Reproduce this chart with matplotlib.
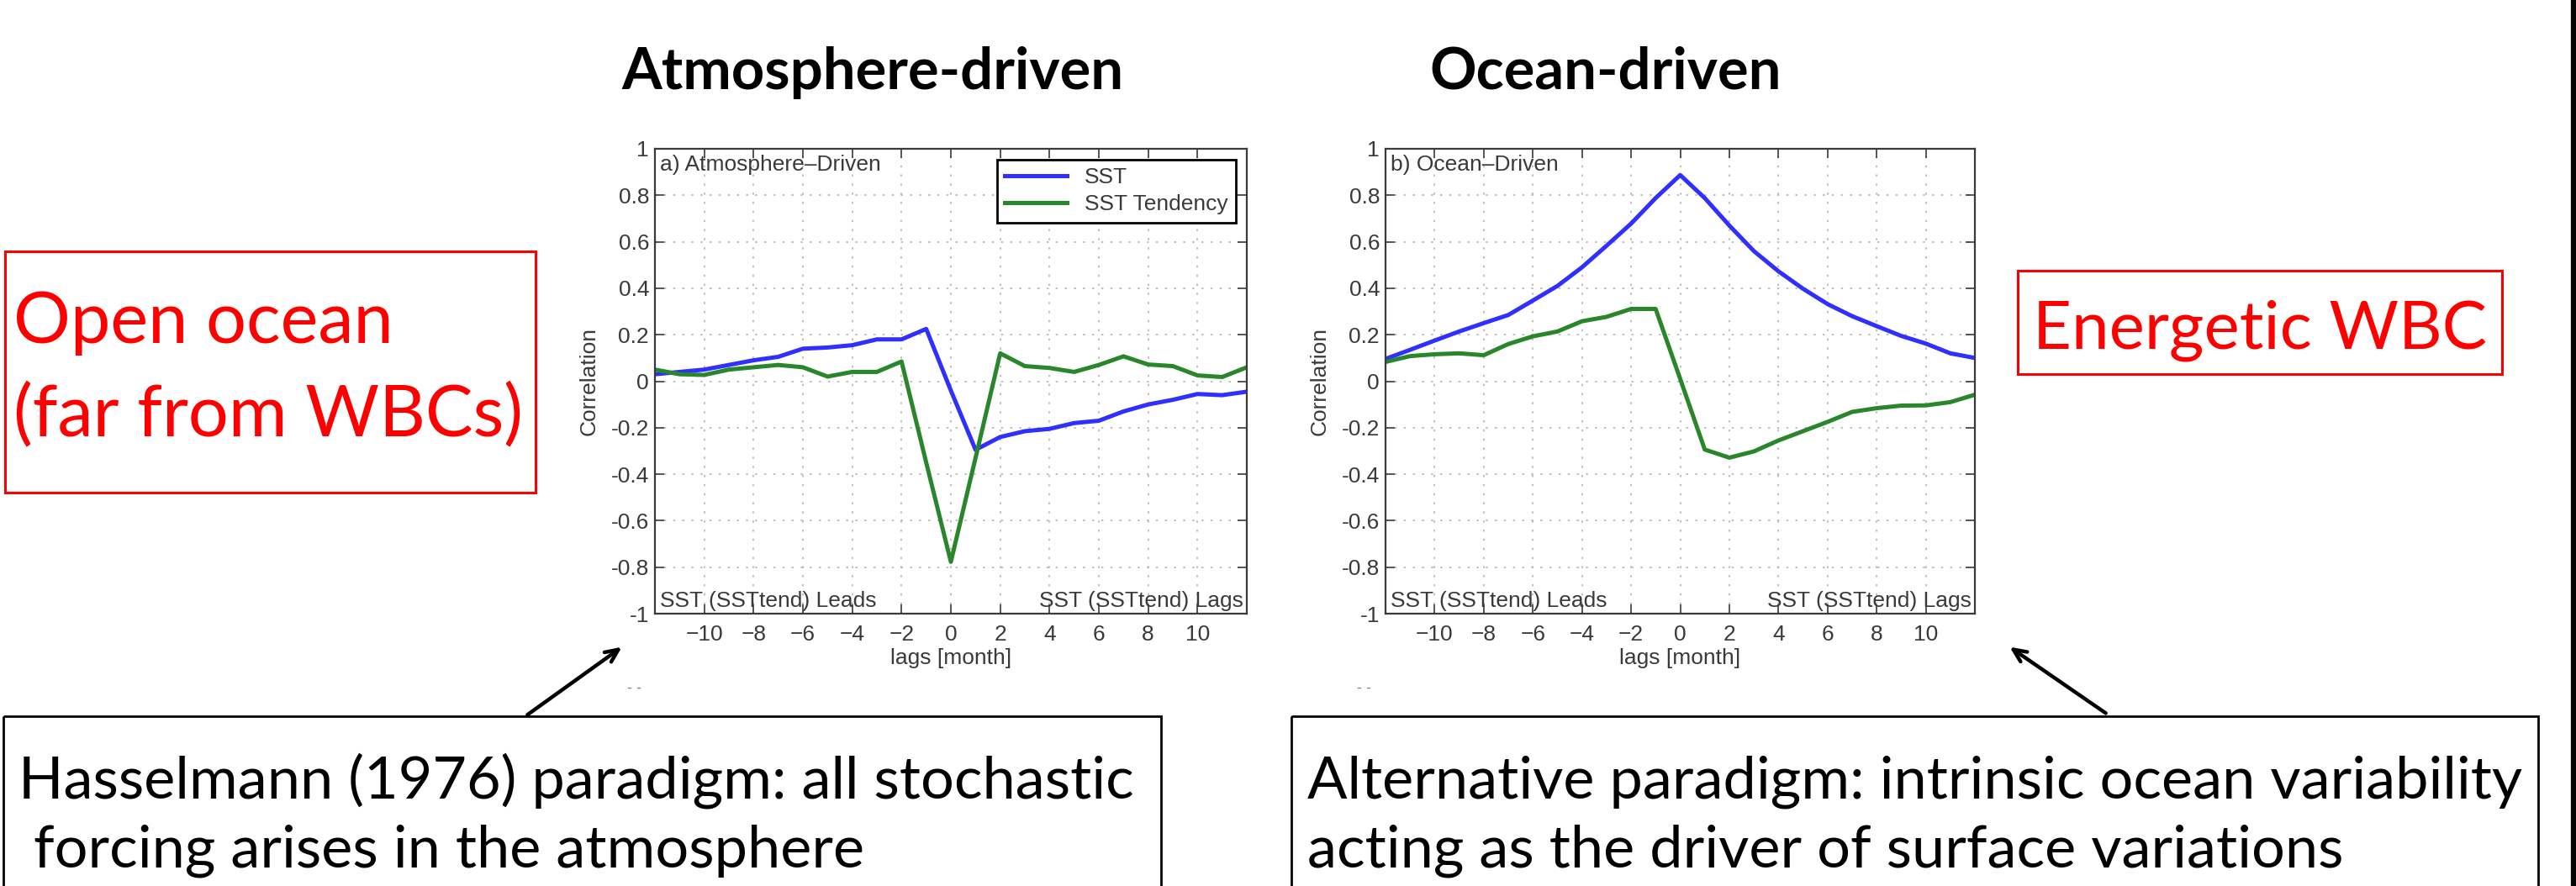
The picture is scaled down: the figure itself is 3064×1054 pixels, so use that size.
import matplotlib
matplotlib.use('Agg')
import matplotlib.pyplot as plt
from matplotlib.patches import Rectangle
import numpy as np

# lags in months
lags = np.arange(-12, 13)

# a) Atmosphere-driven
atm_sst = [0.03, 0.04, 0.05, 0.07, 0.09, 0.105, 0.14, 0.145, 0.155, 0.18, 0.18, 0.225,
           -0.04, -0.295, -0.24, -0.215, -0.205, -0.18, -0.17, -0.13, -0.10, -0.08,
           -0.055, -0.06, -0.045]
atm_tend = [0.05, 0.03, 0.027, 0.05, 0.06, 0.07, 0.06, 0.02, 0.04, 0.04, 0.085, -0.35,
            -0.777, -0.33, 0.12, 0.065, 0.057, 0.04, 0.07, 0.107, 0.072, 0.065,
            0.025, 0.018, 0.06]

# b) Ocean-driven
ocn_sst = [0.096, 0.135, 0.175, 0.214, 0.25, 0.285, 0.347, 0.41, 0.49, 0.583, 0.678, 0.788,
           0.887, 0.788, 0.67, 0.56, 0.473, 0.398, 0.332, 0.28, 0.237, 0.195,
           0.162, 0.12, 0.10]
ocn_tend = [0.083, 0.108, 0.116, 0.12, 0.112, 0.16, 0.193, 0.214, 0.258, 0.277, 0.311, 0.311,
            0.01, -0.294, -0.329, -0.302, -0.255, -0.215, -0.175, -0.132, -0.116, -0.105,
            -0.104, -0.09, -0.058]

xticks = np.arange(-10, 11, 2)
yticks = np.round(np.arange(-1, 1.01, 0.2), 1)

W, H = 3064, 1054
fig = plt.figure(figsize=(W / 100, H / 100), dpi=100)

blue = '#2f2fff'
green = '#2a862a'
axcol = '#3a3a3a'
afont = 'Liberation Sans'
sfont = 'Lato'
fs = 19


def panel(rect, sst, tend, label, legend):
    ax = fig.add_axes(rect)
    ax.plot(lags, sst, color=blue, lw=3.6, label='SST')
    ax.plot(lags, tend, color=green, lw=3.6, label='SST Tendency')
    ax.set_xlim(-12, 12)
    ax.set_ylim(-1, 1)
    ax.set_xticks(xticks)
    ax.set_yticks(yticks)
    ax.set_yticklabels(['%g' % v if v != 0 else '0' for v in yticks])
    ax.grid(True, linestyle=(0, (1.5, 5)), color='#b5b5b5', lw=1.2)
    ax.tick_params(direction='in', top=True, right=True, length=8, width=1.2,
                   colors=axcol, labelsize=fs)
    ax.tick_params(axis='x', pad=9)
    ax.tick_params(axis='y', pad=5)
    for lab in ax.get_xticklabels() + ax.get_yticklabels():
        lab.set_fontfamily(afont)
    for s in ax.spines.values():
        s.set_linewidth(1.6)
        s.set_color(axcol)
    ax.set_xlabel('lags [month]', fontsize=fs, color=axcol, family=afont, labelpad=3)
    ax.set_ylabel('Correlation', fontsize=fs, color=axcol, family=afont, labelpad=10)
    ax.text(0.008, 0.988, label, transform=ax.transAxes, ha='left', va='top',
            fontsize=fs, color=axcol, family=afont)
    ax.text(0.008, 0.006, 'SST (SSTtend) Leads', transform=ax.transAxes, ha='left',
            va='bottom', fontsize=fs, color=axcol, family=afont)
    ax.text(0.994, 0.006, 'SST (SSTtend) Lags', transform=ax.transAxes, ha='right',
            va='bottom', fontsize=fs, color=axcol, family=afont)
    if legend:
        leg = ax.legend(loc='upper right', fancybox=False, framealpha=1,
                        edgecolor='black', handlelength=2.8, borderaxespad=0.5,
                        borderpad=0.35, labelspacing=0.3,
                        prop={'family': afont, 'size': fs})
        leg.get_frame().set_linewidth(2)
        for t in leg.get_texts():
            t.set_color(axcol)
    return ax


panel([779 / W, 1 - 730 / H, 704 / W, 553 / H], atm_sst, atm_tend,
      'a) Atmosphere\u2013Driven', True)
panel([1648 / W, 1 - 730 / H, 701 / W, 553 / H], ocn_sst, ocn_tend,
      'b) Ocean\u2013Driven', False)

# overlay in pixel coordinates for the slide annotations
ov = fig.add_axes([0, 0, 1, 1], zorder=-1)
ov.set_xlim(0, W)
ov.set_ylim(H, 0)
ov.axis('off')

ov.text(1038, 106, 'Atmosphere-driven', ha='center', va='baseline', fontsize=49.5,
        fontweight='bold', family=sfont)
ov.text(1910, 106, 'Ocean-driven', ha='center', va='baseline', fontsize=49.5,
        fontweight='bold', family=sfont)

# red boxes
ov.add_patch(Rectangle((6, 299), 631, 287, fill=False, edgecolor='red', lw=2.2))
ov.text(16, 408, 'Open ocean', color='red', fontsize=61, family=sfont, va='baseline')
ov.text(16, 518, '(far from WBCs)', color='red', fontsize=61, family=sfont, va='baseline')
ov.add_patch(Rectangle((2400, 322), 576, 123, fill=False, edgecolor='red', lw=2.2))
ov.text(2688, 414, 'Energetic WBC', color='red', fontsize=57.5, family=sfont,
        ha='center', va='baseline')

# black boxes
ov.add_patch(Rectangle((4, 852), 1377, 260, fill=False, edgecolor='black', lw=2,
                       clip_on=False))
ov.text(22, 950, 'Hasselmann (1976) paradigm: all stochastic', fontsize=50.6,
        family=sfont, va='baseline')
ov.text(22, 1032, ' forcing arises in the atmosphere', fontsize=50.6,
        family=sfont, va='baseline')
ov.add_patch(Rectangle((1536, 852), 1483, 260, fill=False, edgecolor='black', lw=2,
                       clip_on=False))
ov.text(1555, 950, 'Alternative paradigm: intrinsic ocean variability', fontsize=50.6,
        family=sfont, va='baseline')
ov.text(1555, 1032, 'acting as the driver of surface variations', fontsize=50.6,
        family=sfont, va='baseline')

# arrows
ov.annotate('', xy=(742, 768), xytext=(625, 852),
            arrowprops=dict(arrowstyle='->,head_length=1.1,head_width=0.5', lw=3.2,
                            color='black'))
ov.annotate('', xy=(2388, 768), xytext=(2507, 850),
            arrowprops=dict(arrowstyle='->,head_length=1.1,head_width=0.5', lw=3.2,
                            color='black'))

# cut-off tick marks below the plots
ov.text(755, 818, '- -', color='#888888', fontsize=12, ha='center', va='center')
ov.text(1622, 818, '- -', color='#888888', fontsize=12, ha='center', va='center')

# slide edge
ov.plot([3061, 3061], [0, H], color='black', lw=4.5)

fig.savefig('out.png', dpi=100)
